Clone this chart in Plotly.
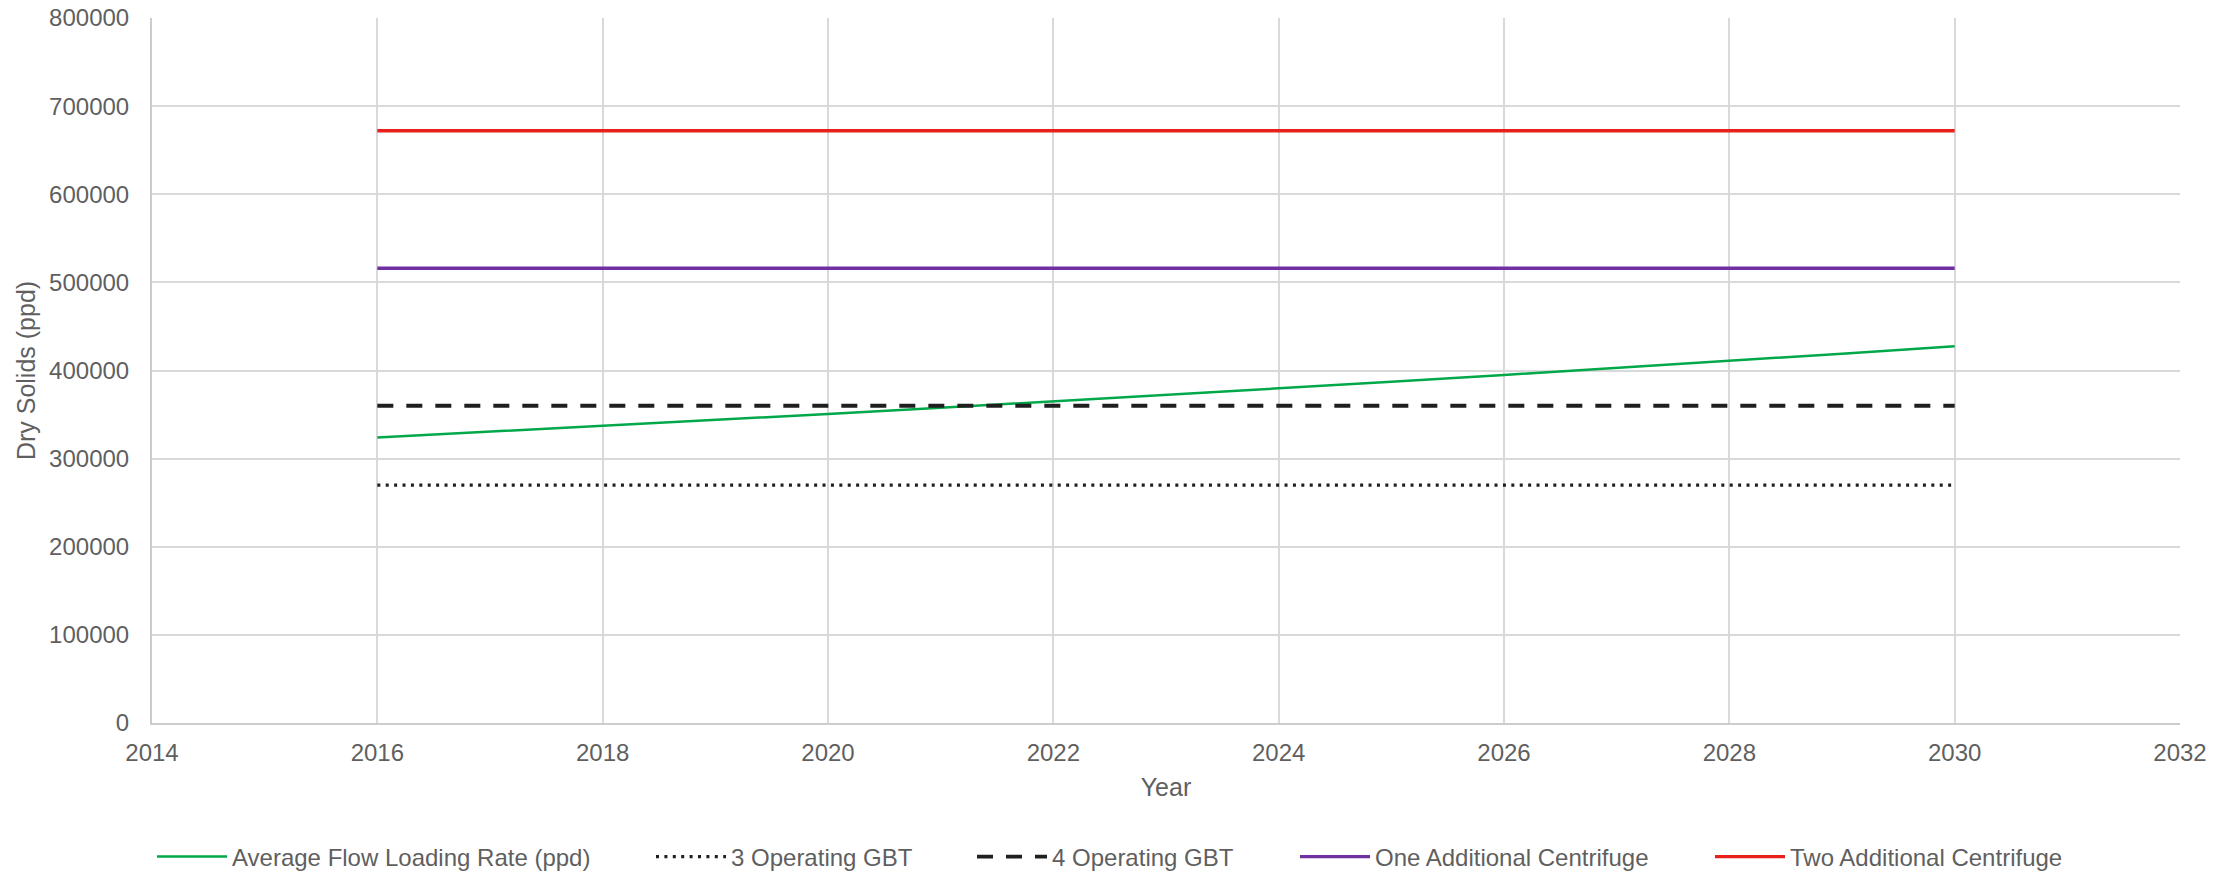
import plotly.graph_objects as go

years = [2016, 2017, 2018, 2019, 2020, 2021, 2022, 2023, 2024, 2025, 2026, 2027, 2028, 2029, 2030]
avg_flow = [324000, 330500, 337100, 343900, 350700, 357700, 364900, 372200,
            379600, 387200, 394900, 402800, 410900, 419100, 427500]
cap_years = [2016, 2030]
gbt3 = [270000, 270000]
gbt4 = [360000, 360000]
one_cent = [516000, 516000]
two_cent = [672000, 672000]

x_ticks = [2014, 2016, 2018, 2020, 2022, 2024, 2026, 2028, 2030, 2032]
y_ticks = [0, 100000, 200000, 300000, 400000, 500000, 600000, 700000, 800000]

FONT = "Liberation Sans, Arial, sans-serif"
GREY = "#5f5f5f"

series = [
    dict(name="Average Flow Loading Rate (ppd)", x=years, y=avg_flow,
         line=dict(color="#00A84A", width=2.5), legend="legend"),
    dict(name="3 Operating GBT", x=cap_years, y=gbt3,
         line=dict(color="#1f1f1f", width=3.2, dash="3px,5.4px"), legend="legend2"),
    dict(name="4 Operating GBT", x=cap_years, y=gbt4,
         line=dict(color="#1f1f1f", width=3.8, dash="16px,13px"), legend="legend3"),
    dict(name="One Additional Centrifuge", x=cap_years, y=one_cent,
         line=dict(color="#7030A0", width=3.4), legend="legend4"),
    dict(name="Two Additional Centrifuge", x=cap_years, y=two_cent,
         line=dict(color="#E8201A", width=3.4), legend="legend5"),
]

fig = go.Figure()
for s in series:
    fig.add_trace(go.Scatter(x=s["x"], y=s["y"], mode="lines", name=s["name"],
                             line=s["line"], legend=s["legend"]))

W, H = 2234, 871
L, T = 152, 18
R = W - 2180
B = H - 723
pw = W - L - R
ph = H - T - B

def px_to_paper_x(px):
    return (px - L) / pw

legend_y = (723 - 857) / ph
sample_starts = [158, 657, 978, 1301, 1716]
legend_common = dict(orientation="h", yanchor="middle", y=legend_y, xanchor="left",
                     font=dict(family=FONT, size=24, color=GREY), itemwidth=70,
                     bgcolor="rgba(0,0,0,0)", borderwidth=0, tracegroupgap=0)
layout_legends = {}
for i, sx in enumerate(sample_starts):
    key = "legend" if i == 0 else f"legend{i+1}"
    layout_legends[key] = dict(legend_common, x=px_to_paper_x(sx - 6))

fig.update_layout(
    width=W, height=H,
    margin=dict(l=L, r=R, t=T, b=B, autoexpand=False),
    paper_bgcolor="white", plot_bgcolor="white",
    font=dict(family=FONT, size=24, color=GREY),
    showlegend=True,
    **layout_legends,
)
fig.update_xaxes(
    range=[2014, 2032], tickmode="array", tickvals=x_ticks, ticktext=[str(v) for v in x_ticks],
    showgrid=True, gridcolor="#d9d9d9", gridwidth=1.5,
    showline=True, linecolor="#cccccc", linewidth=2,
    zeroline=False, ticks="", ticklabelstandoff=7,
    tickfont=dict(family=FONT, size=24, color=GREY),
    title=dict(text="Year", font=dict(family=FONT, size=25, color=GREY), standoff=14),
)
fig.update_yaxes(
    range=[0, 800000], tickmode="array", tickvals=y_ticks, ticktext=[str(v) for v in y_ticks],
    showgrid=True, gridcolor="#d9d9d9", gridwidth=1.5,
    showline=True, linecolor="#cccccc", linewidth=2,
    zeroline=False, ticks="", ticklabelstandoff=16,
    tickfont=dict(family=FONT, size=24, color=GREY),
    title=dict(text="Dry Solids (ppd)", font=dict(family=FONT, size=25, color=GREY), standoff=6),
)

fig.write_html("out.html", config={"displayModeBar": False},
               post_script="document.body.style.margin='0px';")
